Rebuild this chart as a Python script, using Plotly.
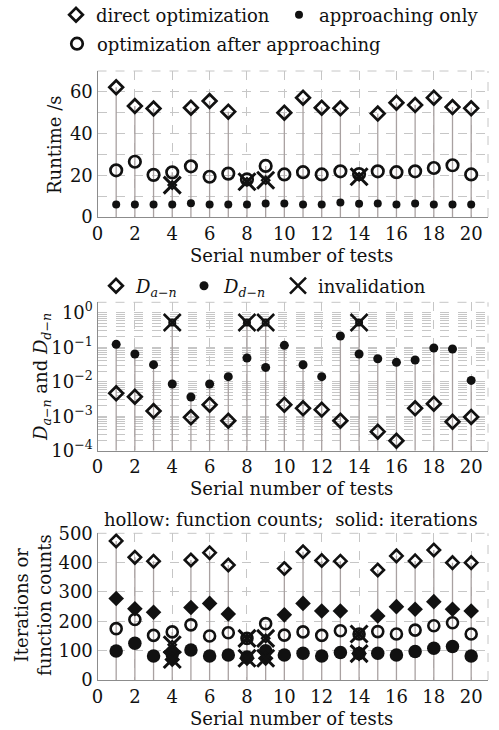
import plotly.graph_objects as go

# ---------------- data ----------------
tests = list(range(1, 21))
invalid_tests = [4, 8, 9, 14]

# Panel 1: runtime (s)
rt_direct = [62.2, 53.2, 52.0, None, 52.4, 55.6, 50.5, None, None, 50.0,
             57.2, 52.4, 52.1, None, 49.6, 54.8, 53.7, 57.2, 52.7, 52.1]
rt_approach = [6.0, 6.0, 6.0, 6.0, 6.6, 6.0, 6.0, 6.0, 6.5, 6.5,
               6.0, 6.0, 7.0, 6.4, 6.5, 6.0, 6.5, 6.0, 6.0, 6.0]
rt_opt_after = [22.4, 26.5, 20.2, 21.4, 24.3, 19.3, 20.8, 18.0, 24.5, 20.4,
                21.5, 20.4, 21.9, 20.6, 21.9, 21.5, 21.9, 23.5, 24.8, 20.4]
rt_invalid = [15.3, 16.9, 17.6, 19.3]

# Panel 2: deviations
d_an = [0.00459, 0.00367, 0.00141, None, 0.000925, 0.00215, 0.00074, None, None, 0.00215,
        0.00169, 0.00155, 0.00074, None, 0.000356, 0.000195, 0.00169, 0.0023, 0.00069, 0.00095]
d_dn = [0.121, 0.0633, 0.0311, 0.00855, 0.0036, 0.0086, 0.014, 0.0485, 0.026, 0.113,
        0.031, 0.014, 0.211, 0.0633, 0.0464, 0.0363, 0.0425, 0.0946, 0.0885, 0.0109]
d_invalid = [0.52, 0.52, 0.52, 0.52]

# Panel 3: iterations / function counts
fc_direct = [474, 418, 405, None, 409, 434, 392, None, None, 380,
             437, 407, 405, None, 375, 423, 406, 443, 400, 400]
it_direct = [278, 243, 231, None, 247, 261, 225, None, None, 222,
             261, 235, 235, None, 218, 250, 241, 267, 241, 235]
fc_opt_after = [175, 206, 152, 164, 188, 150, 161, 142, 192, 153,
                164, 152, 168, 157, 165, 157, 170, 185, 195, 157]
it_opt_after = [99, 125, 82, 88, 102, 82, 85, 78, 100, 85,
                91, 82, 94, 90, 91, 85, 97, 108, 114, 82]
fc_invalid = [120, 142, 142, 157]
it_invalid = [70, 74, 74, 90]

x_ticks = list(range(0, 21, 2))

# ---------------- style ----------------
FONT = "DejaVu Serif"
FS = 18
BLACK = "#111111"
STEM = "#a9a1a1"
GRID = "#c6c6c6"
AXIS = "#8c8c8c"
W, H = 499, 730


def px_x(p):
    return p / W


def px_y(p):
    return 1 - p / H


fig = go.Figure()


def stems(xaxis, yaxis, base, series_list, invalid=None):
    xs, ys = [], []
    for i, t in enumerate(tests):
        vals = [s[i] for s in series_list if s[i] is not None]
        if invalid is not None:
            for it, iv in zip(invalid_tests, invalid):
                if it == t:
                    vals.append(iv)
        top = max(vals)
        xs += [t, t, None]
        ys += [base, top, None]
    fig.add_trace(go.Scatter(x=xs, y=ys, mode="lines", xaxis=xaxis, yaxis=yaxis,
                             line=dict(color=STEM, width=1.3), showlegend=False,
                             hoverinfo="skip"))


def invalid_marks(xaxis, yaxis, vals, inner_symbol, inner_size, show=False, legend=None,
                  name="invalidation", width=3):
    fig.add_trace(go.Scatter(x=invalid_tests, y=vals, mode="markers", xaxis=xaxis, yaxis=yaxis,
                             marker=dict(symbol=inner_symbol, size=inner_size, color=BLACK,
                                         line=dict(color=BLACK, width=2)),
                             showlegend=False))
    kw = dict(legend=legend) if legend else {}
    fig.add_trace(go.Scatter(x=invalid_tests, y=vals, mode="markers", xaxis=xaxis, yaxis=yaxis,
                             name=name,
                             marker=dict(symbol="x-thin-open", size=17, color=BLACK,
                                         line=dict(color=BLACK, width=width)),
                             showlegend=show, **kw))


# ---------- Panel 1 ----------
stems("x", "y", 0, [rt_direct, rt_approach, rt_opt_after], rt_invalid)
fig.add_trace(go.Scatter(x=tests, y=rt_direct, mode="markers", name="direct optimization",
                         marker=dict(symbol="diamond-open", size=10.5, color=BLACK,
                                     line=dict(color=BLACK, width=2.7)),
                         legend="legend"))
fig.add_trace(go.Scatter(x=tests, y=rt_approach, mode="markers", name="approaching only",
                         marker=dict(symbol="circle", size=8, color=BLACK),
                         legend="legend2"))
fig.add_trace(go.Scatter(x=tests, y=rt_opt_after, mode="markers",
                         name="optimization after approaching",
                         marker=dict(symbol="circle-open", size=11.5, color=BLACK,
                                     line=dict(color=BLACK, width=2.7)),
                         legend="legend3"))
invalid_marks("x", "y", rt_invalid, "diamond-open", 6)

# ---------- Panel 2 ----------
stems("x2", "y2", 1e-4, [d_an, d_dn], d_invalid)
fig.add_trace(go.Scatter(x=tests, y=d_an, mode="markers", xaxis="x2", yaxis="y2",
                         name="<i>D</i><sub><i>a\u2212n</i></sub>",
                         marker=dict(symbol="diamond-open", size=10.5, color=BLACK,
                                     line=dict(color=BLACK, width=2.7)),
                         legend="legend4"))
fig.add_trace(go.Scatter(x=tests, y=d_dn, mode="markers", xaxis="x2", yaxis="y2",
                         name="<i>D</i><sub><i>d\u2212n</i></sub>",
                         marker=dict(symbol="circle", size=9, color=BLACK),
                         legend="legend5"))
invalid_marks("x2", "y2", d_invalid, "circle-open", 6, show=True, legend="legend6", width=2.6)

# ---------- Panel 3 ----------
stems("x3", "y3", 0, [fc_direct, it_direct, fc_opt_after, it_opt_after], fc_invalid)
fig.add_trace(go.Scatter(x=tests, y=fc_direct, mode="markers", xaxis="x3", yaxis="y3",
                         name="function counts (direct)", showlegend=False,
                         marker=dict(symbol="diamond-open", size=9.5, color=BLACK,
                                     line=dict(color=BLACK, width=2.6))))
fig.add_trace(go.Scatter(x=tests, y=it_direct, mode="markers", xaxis="x3", yaxis="y3",
                         name="iterations (direct)", showlegend=False,
                         marker=dict(symbol="diamond", size=12, color=BLACK)))
fig.add_trace(go.Scatter(x=tests, y=fc_opt_after, mode="markers", xaxis="x3", yaxis="y3",
                         name="function counts (after approaching)", showlegend=False,
                         marker=dict(symbol="circle-open", size=11, color=BLACK,
                                     line=dict(color=BLACK, width=2.6))))
fig.add_trace(go.Scatter(x=tests, y=it_opt_after, mode="markers", xaxis="x3", yaxis="y3",
                         name="iterations (after approaching)", showlegend=False,
                         marker=dict(symbol="circle", size=13.5, color=BLACK)))
invalid_marks("x3", "y3", fc_invalid, "diamond-open", 6)
invalid_marks("x3", "y3", it_invalid, "diamond", 10)

# ---------------- axes ----------------
xdom = [px_x(97.5), px_x(488)]
doms = {
    "1": [px_y(217), px_y(71)],
    "2": [px_y(450.7), px_y(302.3)],
    "3": [px_y(680), px_y(533.3)],
}

tickfont = dict(family=FONT, size=FS, color=BLACK)

common_x = dict(range=[0, 20.9], tickmode="array", tickvals=x_ticks,
                ticktext=[str(v) for v in x_ticks], showgrid=True, gridcolor=GRID,
                griddash="dash", gridwidth=1, showline=True, linecolor=AXIS, linewidth=1.2,
                ticks="", tickfont=tickfont, zeroline=False, domain=xdom,
                automargin=False)

layout = dict(
    width=W, height=H, margin=dict(l=0, r=0, t=0, b=0, autoexpand=False),
    paper_bgcolor="white", plot_bgcolor="white",
    font=dict(family=FONT, size=FS, color=BLACK),
    xaxis=dict(common_x, anchor="y"),
    xaxis2=dict(common_x, anchor="y2"),
    xaxis3=dict(common_x, anchor="y3"),
    yaxis=dict(domain=doms["1"], anchor="x", range=[0, 70], tickmode="array",
               tickvals=[0, 20, 40, 60], ticktext=["0", "20", "40", "60"],
               showgrid=True, gridcolor=GRID, griddash="dash",
               minor=dict(tickmode="linear", tick0=0, dtick=10, showgrid=True,
                          gridcolor=GRID, griddash="dash", ticks=""),
               showline=True, linecolor=AXIS, linewidth=1.2, ticks="", zeroline=False,
               tickfont=tickfont, automargin=False),
    yaxis2=dict(domain=doms["2"], anchor="x2", type="log", range=[-4, 0.30103],
                tickmode="array", tickvals=[1e-4, 1e-3, 1e-2, 1e-1, 1],
                ticktext=["10<sup>\u22124</sup>", "10<sup>\u22123</sup>", "10<sup>\u22122</sup>",
                          "10<sup>\u22121</sup>", "10<sup>0</sup>"],
                showgrid=True, gridcolor=GRID, griddash="dash",
                minor=dict(dtick="D1", showgrid=True, gridcolor=GRID, griddash="dash", ticks=""),
                showline=True, linecolor=AXIS, linewidth=1.2, ticks="", zeroline=False,
                tickfont=tickfont, automargin=False),
    yaxis3=dict(domain=doms["3"], anchor="x3", range=[0, 500], tickmode="array",
                tickvals=[0, 100, 200, 300, 400, 500],
                ticktext=["0", "100", "200", "300", "400", "500"],
                showgrid=True, gridcolor=GRID, griddash="dash",
                showline=True, linecolor=AXIS, linewidth=1.2, ticks="", zeroline=False,
                tickfont=tickfont, automargin=False),
    showlegend=True,
)


def leg(xc, yc):
    return dict(x=px_x(xc - 20), y=px_y(yc), xanchor="left", yanchor="middle",
                bgcolor="rgba(0,0,0,0)", borderwidth=0,
                font=dict(family=FONT, size=FS, color=BLACK), itemsizing="trace")


layout["legend"] = leg(76, 15)
layout["legend2"] = leg(299, 15)
layout["legend3"] = leg(77, 44)
layout["legend4"] = leg(116, 286)
layout["legend5"] = leg(204, 286)
layout["legend6"] = leg(298, 286)

fig.update_layout(**layout)

# dashed frame on top and right of each panel
for ax in ["", "2", "3"]:
    for (x0, y0, x1, y1) in [(1, 0, 1, 1), (0, 1, 1, 1)]:
        fig.add_shape(type="line", xref=f"x{ax} domain", yref=f"y{ax} domain",
                      x0=x0, y0=y0, x1=x1, y1=y1, layer="below",
                      line=dict(color=GRID, width=1, dash="dash"))

# axis titles as annotations
ytitles = [
    ("Runtime /s", 54, 145),
    ("<i>D</i><sub><i>a\u2212n</i></sub> and <i>D</i><sub><i>d\u2212n</i></sub>", 42, 377),
    ("Iterations or<br>function counts", 33, 605),
]
for txt, xc, yc in ytitles:
    fig.add_annotation(text=txt, x=px_x(xc), y=px_y(yc), xref="paper", yref="paper",
                       showarrow=False, textangle=-90, xanchor="center", yanchor="middle",
                       font=dict(family=FONT, size=FS, color=BLACK))

for yc in [255, 488, 718]:
    fig.add_annotation(text="Serial number of tests", x=px_x(291), y=px_y(yc),
                       xref="paper", yref="paper", showarrow=False,
                       xanchor="center", yanchor="middle",
                       font=dict(family=FONT, size=FS, color=BLACK))

fig.add_annotation(text="hollow: function counts;  solid: iterations",
                   x=px_x(291), y=px_y(519), xref="paper", yref="paper",
                   showarrow=False, font=dict(family=FONT, size=FS, color=BLACK),
                   xanchor="center", yanchor="middle")

fig.write_html("out.html")
